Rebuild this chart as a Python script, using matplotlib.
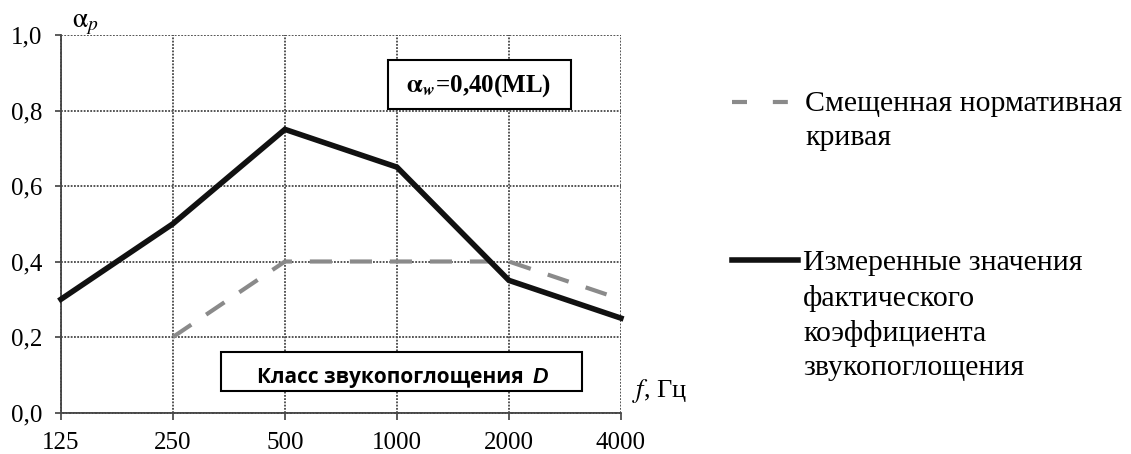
"""Звукопоглощение: измеренные значения и смещенная нормативная кривая."""

import matplotlib
matplotlib.use("Agg")
import matplotlib.pyplot as plt
from matplotlib.lines import Line2D

plt.rcParams["font.family"] = ["Liberation Serif", "DejaVu Serif"]
plt.rcParams["mathtext.fontset"] = "stix"

# --- data ---
freqs = [125, 250, 500, 1000, 2000, 4000]
freq_labels = ["125", "250", "500", "1000", "2000", "4000"]
measured = [0.30, 0.50, 0.75, 0.65, 0.35, 0.25]
ref_freqs = [250, 500, 1000, 2000, 4000]
ref_curve = [0.20, 0.40, 0.40, 0.40, 0.30]
y_ticks = [0.0, 0.2, 0.4, 0.6, 0.8, 1.0]
y_labels = ["0,0", "0,2", "0,4", "0,6", "0,8", "1,0"]

fig = plt.figure(figsize=(11.31, 4.54), dpi=100)
ax = fig.add_axes([0.0539, 0.0914, 0.4951, 0.8315])

dotted = (0, (1, 0.8))

ax.set_xscale("log", base=2)
ax.set_xlim(125, 4000)
ax.set_ylim(0, 1.0)
ax.set_xticks(freqs)
ax.set_xticklabels(freq_labels)
ax.minorticks_off()
ax.set_yticks(y_ticks)
ax.set_yticklabels(y_labels)
ax.tick_params(axis="both", labelsize=18, width=1.2, color="#404040")
ax.tick_params(axis="x", length=5, pad=9)
ax.tick_params(axis="y", length=4.5, pad=9)
ax.grid(True, color="#484848", linestyle=dotted, linewidth=1.3)
for side in ["top", "right"]:
    ax.spines[side].set_visible(False)
for side in ["left", "bottom"]:
    ax.spines[side].set_color("#484848")
    ax.spines[side].set_linestyle(dotted)
    ax.spines[side].set_linewidth(1.3)

ax.plot(ref_freqs, ref_curve, color="#8a8a8a", linewidth=3,
        dashes=(5.3, 4.3), zorder=3, clip_on=False)
ax.plot(freqs, measured, color="#111111", linewidth=4, zorder=4,
        clip_on=False, solid_joinstyle="miter")

# box with weighted coefficient
ax.add_patch(plt.Rectangle((0.584, 0.804), 0.327, 0.130,
                           transform=ax.transAxes, facecolor="white",
                           edgecolor="black", linewidth=1.5, zorder=5))
ax.text(0.7465, 0.866, r"$\mathbf{\alpha}_{\mathbfit{w}}$=0,40(ML)",
        transform=ax.transAxes, ha="center", va="center", fontsize=18,
        fontweight="bold", zorder=6)

# box with absorption class
ax.add_patch(plt.Rectangle((0.2857, 0.057), 0.6443, 0.103,
                           transform=ax.transAxes, facecolor="white",
                           edgecolor="black", linewidth=1.5, zorder=5))
ax.text(0.35, 0.078, "Класс звукопоглощения", transform=ax.transAxes,
        ha="left", va="baseline", fontsize=15, fontweight="bold",
        family="Open Sans", zorder=6)
ax.text(0.842, 0.078, "D", transform=ax.transAxes, ha="left",
        va="baseline", fontsize=15.5, fontweight="bold", fontstyle="italic",
        family="Liberation Sans", zorder=6)

# axis captions
ax.text(1.0196, 0.041, r"$\mathit{f}$, Гц", transform=ax.transAxes,
        ha="left", va="baseline", fontsize=19)
ax.text(0.0196, 1.021, r"$\mathrm{\alpha}_{p}$", transform=ax.transAxes,
        ha="left", va="baseline", fontsize=20)

# legend on the right (multi-line text is anchored at its last baseline)
fig.add_artist(Line2D([0.647, 0.698], [0.7753, 0.7753], color="#8a8a8a",
                      linewidth=3, dashes=(3.6, 6.2), transform=fig.transFigure))
fig.text(0.712, 0.6806, "Смещенная нормативная\nкривая", ha="left",
         va="baseline", fontsize=21.5, linespacing=1.4)
fig.add_artist(Line2D([0.647, 0.706], [0.4273, 0.4273], color="#111111",
                      linewidth=4, transform=fig.transFigure))
fig.text(0.710, 0.174,
         "Измеренные значения\nфактического\nкоэффициента\nзвукопоглощения",
         ha="left", va="baseline", fontsize=21.5, linespacing=1.4)

fig.savefig("out.png", dpi=100)
